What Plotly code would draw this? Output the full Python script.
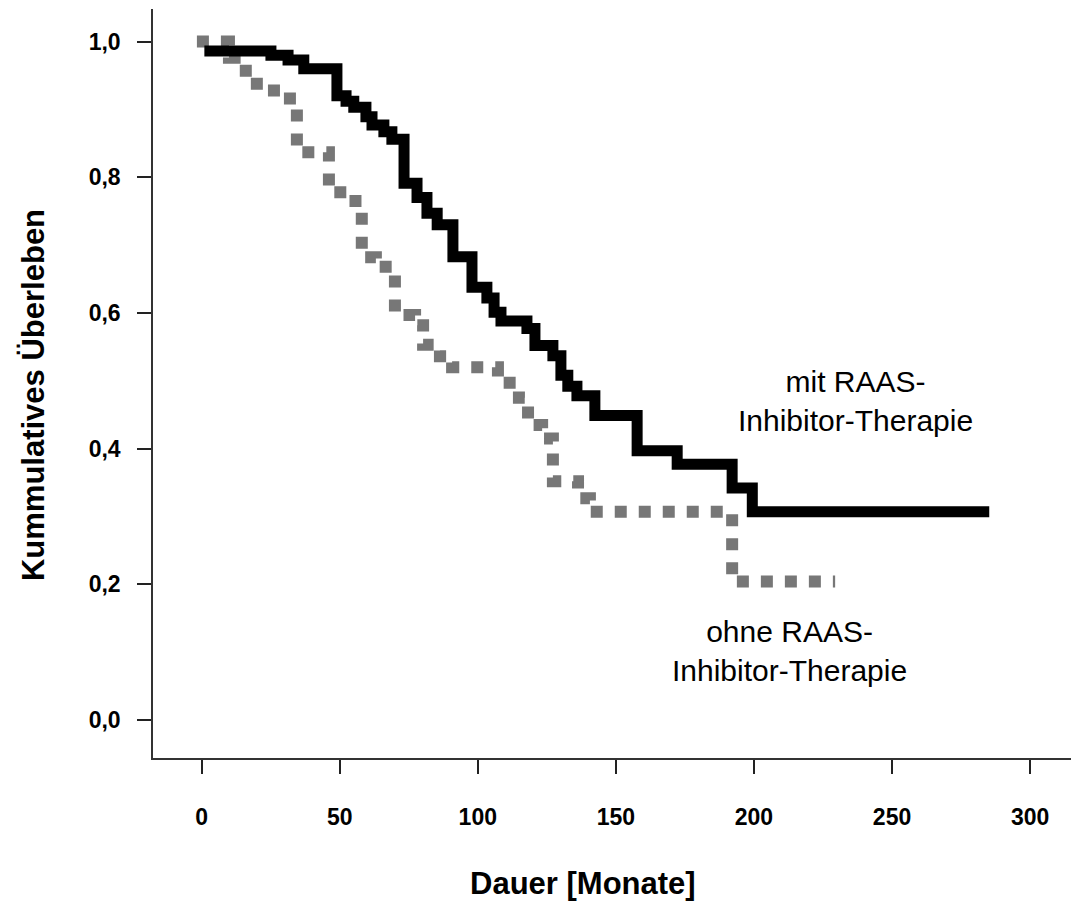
import plotly.graph_objects as go

# ---- data ----
# mit RAAS-Inhibitor-Therapie (step function: time in months, cumulative survival)
mit_time = [1.0, 25.1, 31.3, 37.0, 49.0, 52.3, 55.1, 59.5, 61.7, 66.0, 68.9, 73.3, 78.0,
            81.6, 85.3, 91.0, 97.9, 103.3, 105.9, 108.4, 117.8, 120.7, 127.2, 130.1,
            132.6, 135.9, 142.4, 157.7, 172.2, 192.1, 199.4, 285.2]
mit_surv = [0.986, 0.980, 0.973, 0.960, 0.920, 0.912, 0.903, 0.889, 0.877, 0.867, 0.856,
            0.791, 0.770, 0.747, 0.730, 0.683, 0.638, 0.622, 0.601, 0.588, 0.577, 0.552,
            0.537, 0.508, 0.492, 0.478, 0.449, 0.397, 0.377, 0.342, 0.307, 0.307]

# ohne RAAS-Inhibitor-Therapie
ohne_time = [-1.7, 9.9, 16.0, 26.2, 34.5, 46.1, 52.6, 58.0, 63.1, 70.0, 77.3, 80.2, 86.3,
             90.7, 107.3, 114.9, 118.2, 123.3, 127.2, 136.3, 140.6, 192.1, 229.4]
ohne_surv = [1.000, 0.976, 0.938, 0.916, 0.837, 0.778, 0.765, 0.682, 0.668, 0.597, 0.582,
             0.553, 0.536, 0.520, 0.497, 0.475, 0.435, 0.415, 0.352, 0.327, 0.307, 0.204,
             0.204]

x_ticks = [0, 50, 100, 150, 200, 250, 300]
y_ticks = [0.0, 0.2, 0.4, 0.6, 0.8, 1.0]
y_ticktext = ["0,0", "0,2", "0,4", "0,6", "0,8", "1,0"]

x_title = "Dauer [Monate]"
y_title = "Kummulatives Überleben"
label_mit = "mit RAAS-<br>Inhibitor-Therapie"
label_ohne = "ohne RAAS-<br>Inhibitor-Therapie"

FONT = "Liberation Sans, Arial, sans-serif"

fig = go.Figure()
fig.add_trace(go.Scatter(
    x=ohne_time, y=ohne_surv, mode="lines", line_shape="hv",
    line=dict(color="#777777", width=12, dash="12px,12px"),
    showlegend=False, hoverinfo="skip"))
fig.add_trace(go.Scatter(
    x=mit_time, y=mit_surv, mode="lines", line_shape="hv",
    line=dict(color="#000000", width=11),
    showlegend=False, hoverinfo="skip"))

fig.update_layout(
    width=1071, height=904,
    margin=dict(l=153, r=0, t=9, b=146, pad=0),
    paper_bgcolor="white", plot_bgcolor="white",
    font=dict(family=FONT, color="black"),
    xaxis=dict(
        range=[-17.6, 314.8], tickmode="array", tickvals=x_ticks,
        ticktext=[str(v) for v in x_ticks],
        showgrid=False, zeroline=False, showline=True, linecolor="#333333", linewidth=1.5,
        ticks="outside", ticklen=14, tickwidth=2, tickcolor="#222222",
        tickfont=dict(family=FONT, size=23, color="black", weight="bold"),
        ticklabelstandoff=24),
    yaxis=dict(
        range=[-0.056, 1.048], tickmode="array", tickvals=y_ticks, ticktext=y_ticktext,
        showgrid=False, zeroline=False, showline=True, linecolor="#333333", linewidth=1.5,
        ticks="outside", ticklen=14, tickwidth=2, tickcolor="#222222",
        tickfont=dict(family=FONT, size=23, color="black", weight="bold"),
        ticklabelstandoff=12),
)

fig.add_annotation(text=x_title, xref="paper", yref="paper", x=0.468, y=-0.167,
                   showarrow=False, xanchor="center", yanchor="middle",
                   font=dict(family=FONT, size=31, color="black", weight="bold"))
fig.add_annotation(text=y_title, xref="paper", yref="paper", x=-0.1307, y=0.4846,
                   showarrow=False, xanchor="center", yanchor="middle", textangle=-90,
                   font=dict(family=FONT, size=31, color="black", weight="bold"))
fig.add_annotation(text=label_mit, xref="x", yref="y", x=236.6, y=0.4696,
                   showarrow=False, xanchor="center", yanchor="middle", align="center",
                   font=dict(family=FONT, size=30, color="black"))
fig.add_annotation(text=label_ohne, xref="x", yref="y", x=212.7, y=0.101,
                   showarrow=False, xanchor="center", yanchor="middle", align="center",
                   font=dict(family=FONT, size=30, color="black"))

fig.write_html("out.html")
